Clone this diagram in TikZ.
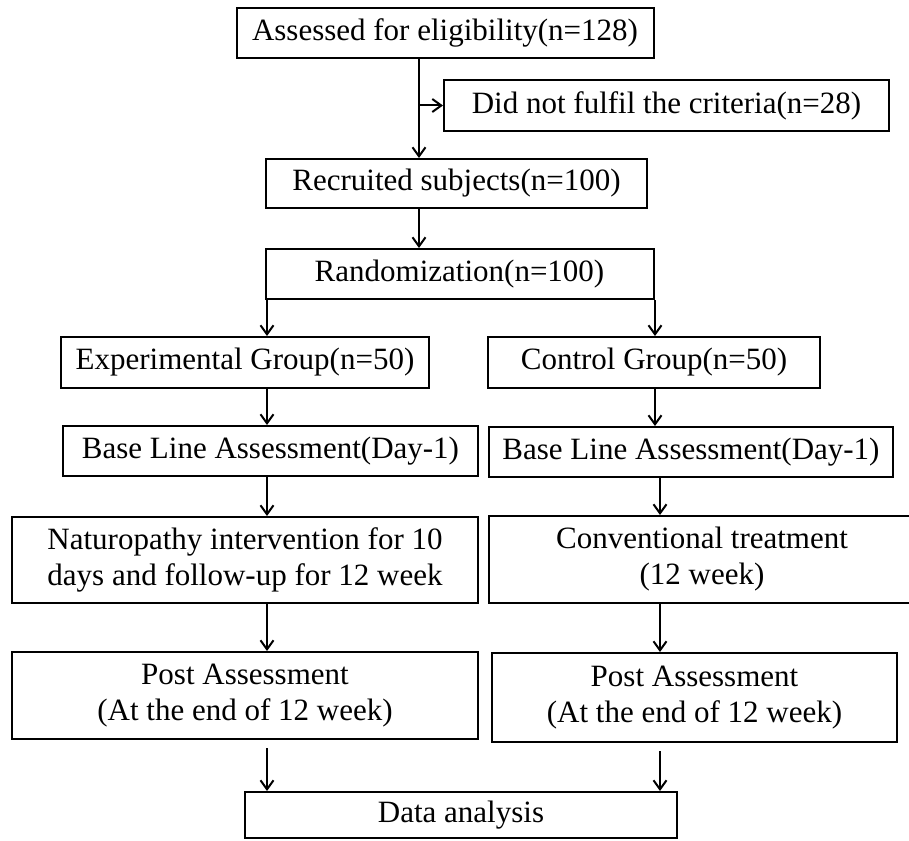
\documentclass[tikz,border=0pt]{standalone}
\usepackage{fontspec}
\setmainfont{Liberation Serif}
\usetikzlibrary{arrows.meta}
\begin{document}
\begin{tikzpicture}[x=1pt,y=-1pt,
  box/.style={draw=black, line width=2pt, align=center, inner sep=0pt,
    font=\fontsize{31}{36}\selectfont},
  arr/.style={draw=black, line width=2pt, -{Straight Barb[length=9pt,width=13pt,line width=2pt]}}]
\useasboundingbox (0,0) rectangle (909,840);
\begin{scope}
\clip (0,0) rectangle (909,840);
\node[box, minimum width=417pt, minimum height=50pt] (b1) at (445,33) {Assessed for eligibility(n=128)};
\node[box, minimum width=445pt, minimum height=51pt] (b2) at (666.5,105.5) {Did not fulfil the criteria(n=28)};
\node[box, minimum width=381pt, minimum height=49pt] (b3) at (456.5,183.5) {Recruited subjects(n=100)};
\node[box, minimum width=388pt, minimum height=50pt] (b4) at (459.5,274) {Randomization(n=100)};
\node[box, minimum width=368pt, minimum height=51pt] (b5) at (245,362.5) {Experimental Group(n=50)};
\node[box, minimum width=332pt, minimum height=51pt] (b6) at (654,362.5) {Control Group(n=50)};
\node[box, minimum width=415pt, minimum height=50pt] (b7) at (270.5,451) {Base Line Assessment(Day-1)};
\node[box, minimum width=404pt, minimum height=50pt] (b8) at (691,452) {Base Line Assessment(Day-1)};
\node[box, minimum width=466pt, minimum height=86pt] (b9) at (245,560) {Naturopathy intervention for 10\\days and follow-up for 12 week};
\node[box, minimum width=426pt, minimum height=87pt] (b10) at (702,559.5) {Conventional treatment\\(12 week)};
\node[box, minimum width=466pt, minimum height=87pt] (b11) at (245,695.5) {Post Assessment\\(At the end of 12 week)};
\node[box, minimum width=405pt, minimum height=89pt] (b12) at (694.5,697.5) {Post Assessment\\(At the end of 12 week)};
\node[box, minimum width=432pt, minimum height=46pt] (b13) at (461,815) {Data analysis};
\end{scope}
\coordinate (cM) at (419,0);
\coordinate (cL) at (267,0);
\coordinate (cR) at (655,0);
\coordinate (cR2) at (660,0);
\draw[arr] (cM |- b1.south) -- (cM |- b3.north);
\draw[arr] (cM |- b2.west) -- (b2.west);
\draw[arr] (cM |- b3.south) -- (cM |- b4.north);
\draw[arr] (cL |- b4.south) -- (cL |- b5.north);
\draw[arr] (cR |- b4.south) -- (cR |- b6.north);
\draw[arr] (cL |- b5.south) -- (cL |- b7.north);
\draw[arr] (cR |- b6.south) -- (cR |- b8.north);
\draw[arr] (cL |- b7.south) -- (cL |- b9.north);
\draw[arr] (cR2 |- b8.south) -- (cR2 |- b10.north);
\draw[arr] (cL |- b9.south) -- (cL |- b11.north);
\draw[arr] (cR2 |- b10.south) -- (cR2 |- b12.north);
\draw[arr] ([yshift=-8pt]cL |- b11.south) -- (cL |- b13.north);
\draw[arr] ([yshift=-8pt]cR2 |- b12.south) -- (cR2 |- b13.north);
\end{tikzpicture}
\end{document}
